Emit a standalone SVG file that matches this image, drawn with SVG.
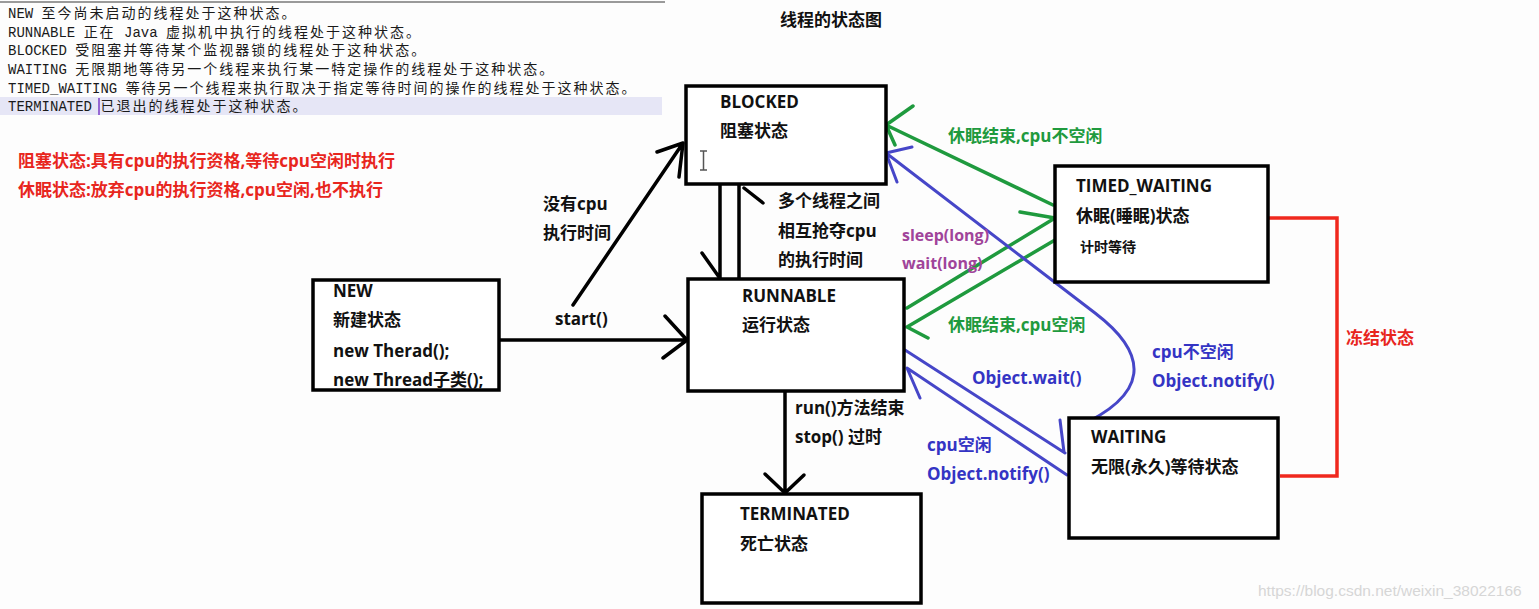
<svg xmlns="http://www.w3.org/2000/svg" width="1539" height="609" viewBox="0 0 1539 609">
<style>
  .mono{font-family:"Liberation Mono","Noto Sans CJK SC",monospace;font-size:14px;fill:#1a1a1a}
  .cjk{letter-spacing:2px}
  .lbl{font-family:"Open Sans","Noto Sans CJK SC",sans-serif;font-weight:bold;font-size:17px;fill:#111}
  .small{font-size:14px}
  .red{fill:#e8261e}
  .green{fill:#1f9a3e}
  .blue{fill:#3434c4}
  .purple{fill:#a0449a;font-size:16px}
  .box{fill:#fff;stroke:#000;stroke-width:3.5}
  .k{fill:none;stroke:#000;stroke-width:3.5;stroke-linecap:round;stroke-linejoin:round}
  .g{fill:none;stroke:#1f9a3e;stroke-width:3.5;stroke-linecap:round;stroke-linejoin:round}
  .b{fill:none;stroke:#4646c8;stroke-width:3;stroke-linecap:round;stroke-linejoin:round}
  .r{fill:none;stroke:#f0281e;stroke-width:3.5}
</style>
<rect width="1539" height="609" fill="#fdfdfd"/>

<g id="info-panel">
  <line x1="0" y1="2" x2="665" y2="2" stroke="#9a9a9a" stroke-width="2"/>
  <rect x="0" y="97" width="662" height="18" fill="#e6e6f6"/>
  <line x1="99" y1="98" x2="99" y2="115" stroke="#7a3cc8" stroke-width="1.5"/>
  <text class="mono" x="8" y="18">NEW <tspan class="cjk">至今尚未启动的线程处于这种状态。</tspan></text>
  <text class="mono" x="8" y="37">RUNNABLE <tspan class="cjk">正在</tspan> Java <tspan class="cjk">虚拟机中执行的线程处于这种状态。</tspan></text>
  <text class="mono" x="8" y="55">BLOCKED <tspan class="cjk">受阻塞并等待某个监视器锁的线程处于这种状态。</tspan></text>
  <text class="mono" x="8" y="74">WAITING <tspan class="cjk">无限期地等待另一个线程来执行某一特定操作的线程处于这种状态。</tspan></text>
  <text class="mono" x="8" y="93">TIMED_WAITING <tspan class="cjk">等待另一个线程来执行取决于指定等待时间的操作的线程处于这种状态。</tspan></text>
  <text class="mono" x="8" y="111">TERMINATED <tspan class="cjk">已退出的线程处于这种状态。</tspan></text>
</g>

<text class="lbl" x="780" y="26">线程的状态图</text>
<text class="lbl red" x="18" y="167" font-size="16.5">阻塞状态:具有cpu的执行资格,等待cpu空闲时执行</text>
<text class="lbl red" x="18" y="196" font-size="16.5">休眠状态:放弃cpu的执行资格,cpu空闲,也不执行</text>

<g id="connectors">
  <!-- NEW -> RUNNABLE -->
  <path class="k" d="M499 340 H686 M665 316 L687 340 L663 358"/>
  <!-- NEW -> BLOCKED -->
  <path class="k" d="M573 305 L683 143 M657 152 L683 143 L679 177"/>
  <!-- BLOCKED -> RUNNABLE -->
  <path class="k" d="M720 185 V278 M702 253 L719 277"/>
  <!-- RUNNABLE -> BLOCKED -->
  <path class="k" d="M739 279 V185 M744 188 L763 203"/>
  <!-- RUNNABLE -> TERMINATED -->
  <path class="k" d="M785 391 V493 M765 474 L785 493 L804 475"/>
  <!-- TIMED_WAITING -> BLOCKED -->
  <path class="g" d="M1053 205 L886 125 M913 106 L886 125 L895 145"/>
  <!-- RUNNABLE -> TIMED_WAITING -->
  <path class="g" d="M907 308 L1055 218 M1020 212 L1055 218"/>
  <!-- TIMED_WAITING -> RUNNABLE -->
  <path class="g" d="M1055 240 L907 327 L928 338"/>
  <!-- WAITING -> BLOCKED -->
  <path class="b" d="M1075 428 C1150 395 1150 355 1095 313 L886 153 M912 147 L886 153 L897 182"/>
  <!-- RUNNABLE -> WAITING -->
  <path class="b" d="M905 350 L1065 453 M1060 420 L1064 452"/>
  <!-- WAITING -> RUNNABLE -->
  <path class="b" d="M1067 475 L907 368 L920 398"/>
  <!-- frozen bracket -->
  <path class="r" d="M1268 218 H1337 V476 H1280"/>
</g>

<g id="node-new">
  <rect class="box" x="313" y="280" width="186" height="110"/>
  <text class="lbl" x="333" y="297">NEW</text>
  <text class="lbl" x="333" y="326">新建状态</text>
  <text class="lbl" x="333" y="357">new Therad();</text>
  <text class="lbl" x="333" y="386">new Thread子类();</text>
</g>
<g id="node-blocked">
  <rect class="box" x="686" y="86" width="200" height="98"/>
  <text class="lbl" x="720" y="108">BLOCKED</text>
  <text class="lbl" x="720" y="137">阻塞状态</text>
  <path d="M700 151 H707 M703.5 151 V170 M700 170 H707" stroke="#555" stroke-width="1.5" fill="none"/>
</g>
<g id="node-runnable">
  <rect class="box" x="688" y="279" width="216" height="112"/>
  <text class="lbl" x="742" y="302">RUNNABLE</text>
  <text class="lbl" x="742" y="331">运行状态</text>
</g>
<g id="node-timed-waiting">
  <rect class="box" x="1055" y="166" width="213" height="116"/>
  <text class="lbl" x="1076" y="192">TIMED_WAITING</text>
  <text class="lbl" x="1076" y="222">休眠(睡眠)状态</text>
  <text class="lbl small" x="1080" y="252">计时等待</text>
</g>
<g id="node-waiting">
  <rect class="box" x="1069" y="418" width="209" height="120"/>
  <text class="lbl" x="1091" y="443">WAITING</text>
  <text class="lbl" x="1091" y="473">无限(永久)等待状态</text>
</g>
<g id="node-terminated">
  <rect class="box" x="702" y="494" width="219" height="109"/>
  <text class="lbl" x="740" y="520">TERMINATED</text>
  <text class="lbl" x="740" y="550">死亡状态</text>
</g>

<g id="labels">
  <text class="lbl" x="543" y="210">没有cpu</text>
  <text class="lbl" x="543" y="239">执行时间</text>
  <text class="lbl" x="555" y="325">start()</text>
  <text class="lbl" x="778" y="207">多个线程之间</text>
  <text class="lbl" x="778" y="237">相互抢夺cpu</text>
  <text class="lbl" x="778" y="266">的执行时间</text>
  <text class="lbl" x="795" y="414">run()方法结束</text>
  <text class="lbl" x="795" y="443">stop() 过时</text>
  <text class="lbl green" x="948" y="142">休眠结束,cpu不空闲</text>
  <text class="lbl green" x="948" y="331">休眠结束,cpu空闲</text>
  <text class="lbl purple" x="902" y="241">sleep(long)</text>
  <text class="lbl purple" x="902" y="269">wait(long)</text>
  <text class="lbl blue" x="972" y="384">Object.wait()</text>
  <text class="lbl blue" x="1152" y="358">cpu不空闲</text>
  <text class="lbl blue" x="1152" y="387">Object.notify()</text>
  <text class="lbl blue" x="927" y="451">cpu空闲</text>
  <text class="lbl blue" x="927" y="480">Object.notify()</text>
  <text class="lbl red" x="1346" y="344" font-size="16">冻结状态</text>
</g>

<text x="1258" y="596" font-family="Liberation Sans, Arial, sans-serif" font-size="15.5" fill="#d6d6d6">https://blog.csdn.net/weixin_38022166</text>
</svg>
